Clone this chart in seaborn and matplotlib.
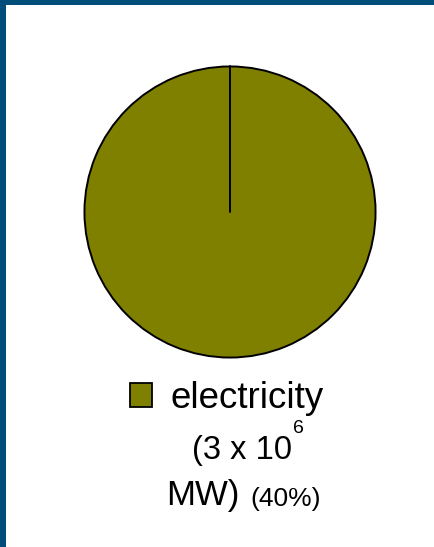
import matplotlib.pyplot as plt
import matplotlib.patches as mpatches
import numpy as np
import seaborn as sns

# data
labels = ['electricity']
power_mw = [3e6]
shares = [40]
colors = ['#808000']

sns.set_theme(style='white')
plt.rcParams['font.family'] = ['Liberation Sans', 'DejaVu Sans']
plt.rcParams['text.color'] = 'black'

fig = plt.figure(figsize=(4.34, 5.47), dpi=100)
fig.patch.set_facecolor('white')

# dark blue frame on the top and left
frame = '#004d7a'
fig.patches.append(mpatches.Rectangle((0, 1 - 5 / 547), 1, 5 / 547, transform=fig.transFigure,
                                      facecolor=frame, edgecolor='none', zorder=0))
fig.patches.append(mpatches.Rectangle((0, 0), 6 / 434, 1, transform=fig.transFigure,
                                      facecolor=frame, edgecolor='none', zorder=0))

ax = fig.add_axes([83 / 434, 1 - 359 / 547, 294 / 434, 294 / 547])
wedges, _ = ax.pie(power_mw, colors=colors, startangle=90, counterclock=False,
                   wedgeprops={'edgecolor': 'black', 'linewidth': 1.4})
# a full wedge is drawn without its radial edge, so add it from the wedge itself
for w in wedges:
    cx, cy = w.center
    a = np.deg2rad(w.theta2)
    ax.plot([cx, cx + w.r * np.cos(a)], [cy, cy + w.r * np.sin(a)], color='black', lw=1.4)
ax.set_xlim(-1.01, 1.01)
ax.set_ylim(-1.01, 1.01)
ax.axis('off')

leg = fig.legend(wedges, labels, loc='upper left', bbox_to_anchor=(130 / 434, 1 - 381 / 547),
                 frameon=False, fontsize=26.5, borderpad=0, borderaxespad=0,
                 handlelength=0.6, handleheight=0.6, handletextpad=0.5)
for h in leg.legend_handles:
    h.set_edgecolor('black')
    h.set_linewidth(1.3)

fig.text(192 / 434, 1 - 459 / 547, '(3 x 10', fontsize=23.5, va='baseline', ha='left')
fig.text(293 / 434, 1 - 433 / 547, '%d' % 6, fontsize=14, va='baseline', ha='left')
fig.text(166 / 434, 1 - 505 / 547, 'MW)', fontsize=25, va='baseline', ha='left')
fig.text(250 / 434, 1 - 506 / 547, '(%d%%)' % shares[0], fontsize=19, va='baseline', ha='left')

fig.savefig('out.png', dpi=100)
